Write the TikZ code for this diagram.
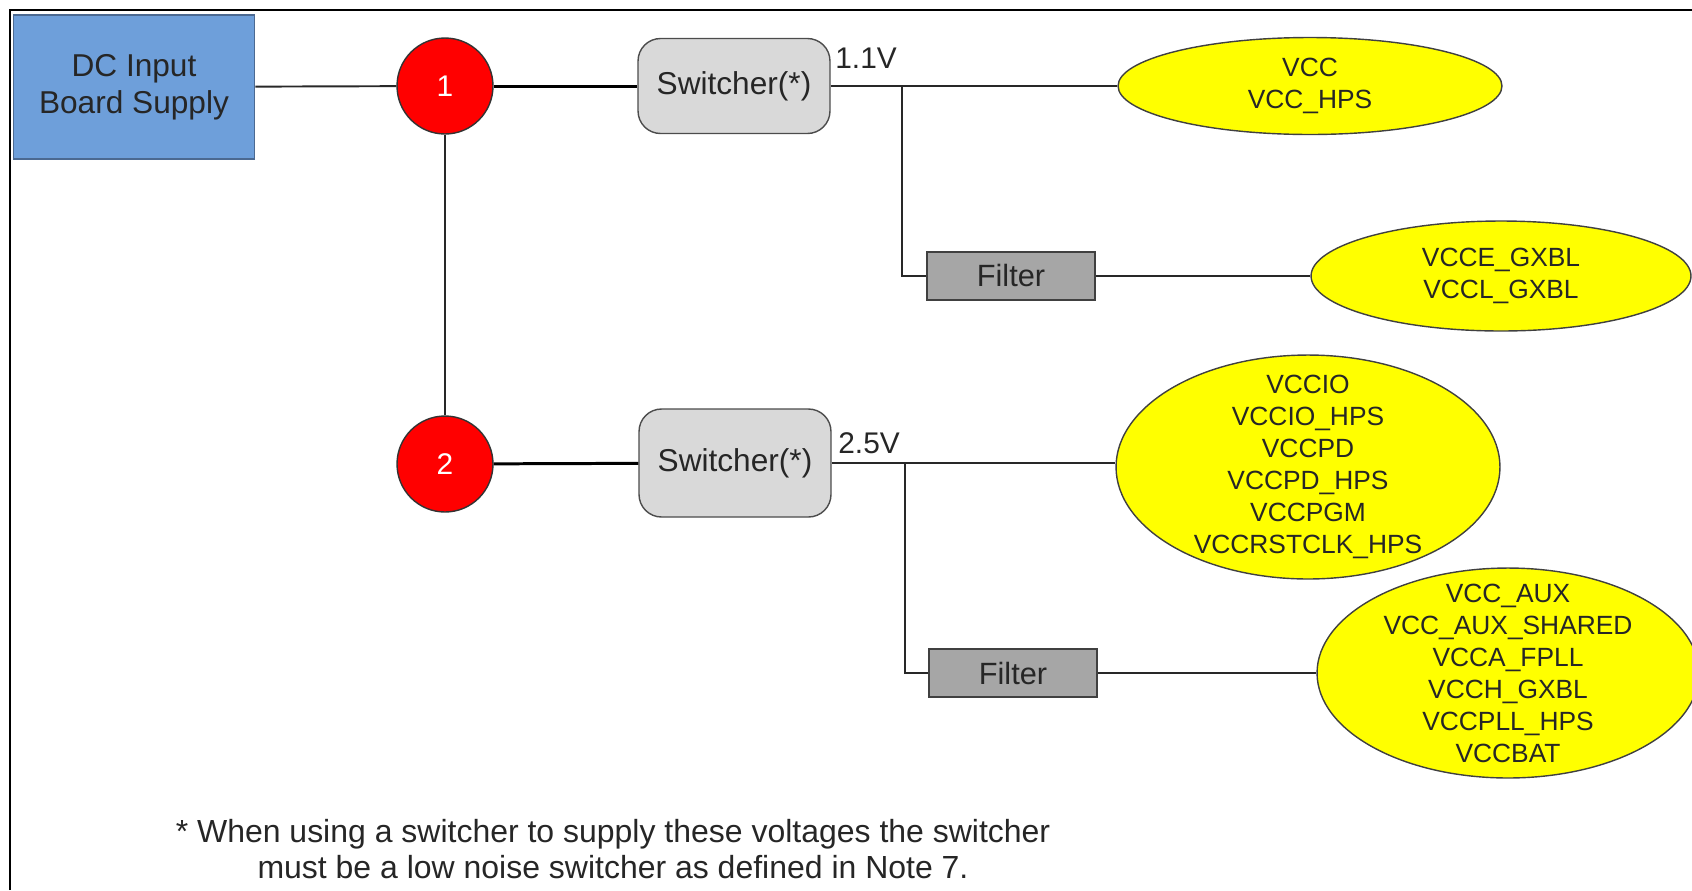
\documentclass[tikz,border=0pt]{standalone}
\usepackage{fontspec}
\setmainfont{Liberation Sans}
\usetikzlibrary{shapes.geometric, positioning}
\definecolor{supplyblue}{RGB}{110,159,218}
\definecolor{supplyedge}{RGB}{75,105,145}
\definecolor{tapred}{RGB}{255,0,0}
\definecolor{switchgray}{RGB}{217,217,217}
\definecolor{filtergray}{RGB}{166,166,166}
\definecolor{railyellow}{RGB}{255,255,0}
\definecolor{wiregray}{RGB}{40,40,40}

\begin{document}
\begin{tikzpicture}[x=0.02cm, y=-0.02cm,
  supply/.style={rectangle, draw=supplyedge, fill=supplyblue, line width=1pt, minimum width=4.82cm, minimum height=2.88cm, align=center, text=black!85, font=\fontsize{18}{21}\selectfont},
  tap/.style={circle, draw=black!80, fill=tapred, line width=0.8pt, minimum size=1.92cm, inner sep=0pt, text=white, font=\fontsize{17}{20}\selectfont},
  switcher/.style={rectangle, rounded corners=0.45cm, draw=black!70, fill=switchgray, line width=0.8pt, minimum width=3.84cm, text=black!85, font=\fontsize{18}{20}\selectfont},
  filterbox/.style={rectangle, draw=black!75, fill=filtergray, line width=0.9pt, minimum width=3.37cm, minimum height=0.95cm, inner sep=0pt, text=black!85, font=\fontsize{17.5}{20}\selectfont},
  rail/.style={ellipse, draw=black!75, fill=railyellow, line width=0.8pt, inner sep=0pt},
  railtext/.style={align=center, inner sep=0pt, text=black!85, font=\fontsize{15}{18.2}\selectfont},
  volt/.style={anchor=base west, inner sep=0pt, text=black!85, font=\fontsize{17}{20}\selectfont},
  wire/.style={draw=wiregray, line width=1.1pt},
  feed/.style={draw=black, line width=1.7pt}
]
\useasboundingbox (0,0) rectangle (1692,890);
\clip (0,0) rectangle (1692,890);

% frame
\draw[line width=1.2pt] (10,890) -- (10,10) -- (1692,10);

% source and regulators
\node[supply] (dc) at (134,87) {DC Input\\Board Supply};
\node[tap] (t1) at (445,86) {1};
\node[tap] (t2) at (445,464) {2};
\node[switcher, minimum height=1.9cm] (sw1) at (734,86) {Switcher(*)};
\node[switcher, minimum height=2.16cm] (sw2) at (735,463) {Switcher(*)};
\node[volt] (v11) at (835,68) {1.1V};
\node[volt] (v25) at (838,453) {2.5V};
\node[filterbox] (f1) at (1011,276) {Filter};
\node[filterbox] (f2) at (1013,673) {Filter};

% supply rails
\node[rail, minimum width=7.68cm, minimum height=1.94cm] (core) at (1310,86) {};
\node[railtext] (coretext) at (core) {VCC\\VCC\_HPS};
\node[rail, minimum width=7.6cm, minimum height=2.2cm] (gxbl) at (1501,276) {};
\node[railtext] (gxbltext) at (gxbl) {VCCE\_GXBL\\VCCL\_GXBL};
\node[rail, minimum width=7.68cm, minimum height=4.48cm] (io) at (1308,467) {};
\node[railtext] (iotext) at (io) {VCCIO\\VCCIO\_HPS\\VCCPD\\VCCPD\_HPS\\VCCPGM\\VCCRSTCLK\_HPS};
\node[rail, minimum width=7.64cm, minimum height=4.2cm] (aux) at (1508,673) {};
\node[railtext] (auxtext) at (aux) {VCC\_AUX\\VCC\_AUX\_SHARED\\VCCA\_FPLL\\VCCH\_GXBL\\VCCPLL\_HPS\\VCCBAT};

% junctions
\coordinate (j1) at (902,86);
\coordinate (j2) at (905,463);

% wiring
\draw[wire] (dc) -- (t1);
\draw[feed] (t1) -- (sw1);
\draw[wire] (t1) -- (t2);
\draw[feed] (t2) -- (sw2);
\draw[wire] (sw1) -- (core);
\draw[wire] (j1) |- (f1.west);
\draw[wire] (f1) -- (gxbl);
\draw[wire] (sw2) -- (sw2 -| io.west);
\draw[wire] (j2) |- (f2.west);
\draw[wire] (f2) -- (aux);

% footnote
\node[align=center, text=black!85, font=\fontsize{18.2}{20.2}\selectfont] (note) at (613,849) {* When using a switcher to supply these voltages the switcher\\must be a low noise switcher as defined in Note 7.};

\end{tikzpicture}
\end{document}
